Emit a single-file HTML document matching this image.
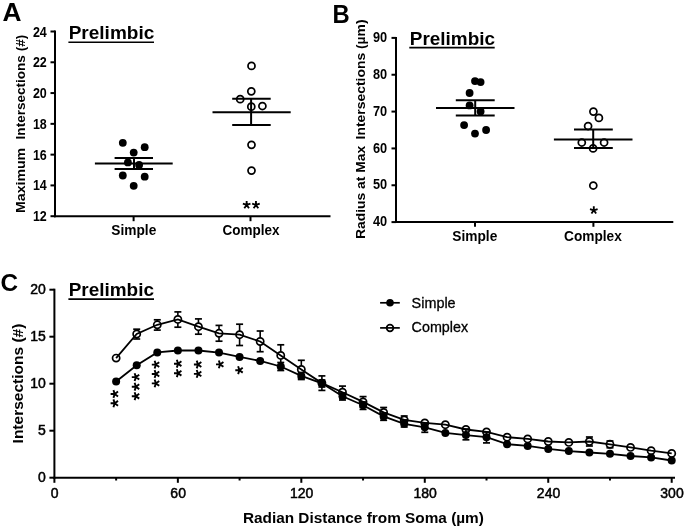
<!DOCTYPE html>
<html><head><meta charset="utf-8"><title>Prelimbic Sholl analysis</title>
<style>
html,body{margin:0;padding:0;background:#fff;}
svg{display:block;font-family:"Liberation Sans", sans-serif;will-change:transform;}
</style></head>
<body>
<svg width="685" height="529" viewBox="0 0 685 529">
<rect width="685" height="529" fill="#fff"/>
<text x="2.4" y="21.1" font-size="26" font-weight="bold" textLength="19.0" lengthAdjust="spacingAndGlyphs">A</text>
<line x1="55" y1="30.5" x2="55" y2="217.2" stroke="#000" stroke-width="2"/>
<line x1="54" y1="216.2" x2="330.5" y2="216.2" stroke="#000" stroke-width="2"/>
<line x1="50.5" y1="216.2" x2="55" y2="216.2" stroke="#000" stroke-width="2"/>
<text x="46.8" y="221.2" font-size="14" font-weight="bold" text-anchor="end" textLength="13.9" lengthAdjust="spacingAndGlyphs">12</text>
<line x1="50.5" y1="185.41666666666666" x2="55" y2="185.41666666666666" stroke="#000" stroke-width="2"/>
<text x="46.8" y="190.41666666666666" font-size="14" font-weight="bold" text-anchor="end" textLength="13.9" lengthAdjust="spacingAndGlyphs">14</text>
<line x1="50.5" y1="154.63333333333333" x2="55" y2="154.63333333333333" stroke="#000" stroke-width="2"/>
<text x="46.8" y="159.63333333333333" font-size="14" font-weight="bold" text-anchor="end" textLength="13.9" lengthAdjust="spacingAndGlyphs">16</text>
<line x1="50.5" y1="123.85000000000001" x2="55" y2="123.85000000000001" stroke="#000" stroke-width="2"/>
<text x="46.8" y="128.85000000000002" font-size="14" font-weight="bold" text-anchor="end" textLength="13.9" lengthAdjust="spacingAndGlyphs">18</text>
<line x1="50.5" y1="93.06666666666666" x2="55" y2="93.06666666666666" stroke="#000" stroke-width="2"/>
<text x="46.8" y="98.06666666666666" font-size="14" font-weight="bold" text-anchor="end" textLength="13.9" lengthAdjust="spacingAndGlyphs">20</text>
<line x1="50.5" y1="62.28333333333333" x2="55" y2="62.28333333333333" stroke="#000" stroke-width="2"/>
<text x="46.8" y="67.28333333333333" font-size="14" font-weight="bold" text-anchor="end" textLength="13.9" lengthAdjust="spacingAndGlyphs">22</text>
<line x1="50.5" y1="31.50000000000003" x2="55" y2="31.50000000000003" stroke="#000" stroke-width="2"/>
<text x="46.8" y="36.50000000000003" font-size="14" font-weight="bold" text-anchor="end" textLength="13.9" lengthAdjust="spacingAndGlyphs">24</text>
<line x1="133.6" y1="216.2" x2="133.6" y2="221.2" stroke="#000" stroke-width="2"/>
<line x1="250.5" y1="216.2" x2="250.5" y2="221.2" stroke="#000" stroke-width="2"/>
<text x="133.8" y="234.7" font-size="14.6" font-weight="bold" text-anchor="middle" textLength="45" lengthAdjust="spacingAndGlyphs">Simple</text>
<text x="251" y="234.7" font-size="14.6" font-weight="bold" text-anchor="middle" textLength="57" lengthAdjust="spacingAndGlyphs">Complex</text>
<text x="25.0" y="213.0" font-size="13.3" font-weight="bold" textLength="65.2" lengthAdjust="spacingAndGlyphs" transform="rotate(-90 25.0 213.0)">Maximum</text>
<text x="25.0" y="139.4" font-size="13.3" font-weight="bold" textLength="104.6" lengthAdjust="spacingAndGlyphs" transform="rotate(-90 25.0 139.4)">Intersections (#)</text>
<text x="68.7" y="39.4" font-size="17.5" font-weight="bold" textLength="85.6" lengthAdjust="spacingAndGlyphs">Prelimbic</text>
<line x1="68.4" y1="42.3" x2="154" y2="42.3" stroke="#000" stroke-width="1.6"/>
<circle cx="122.8" cy="142.8" r="3.9" fill="#000"/>
<circle cx="144.7" cy="147.2" r="3.9" fill="#000"/>
<circle cx="133.7" cy="152.6" r="3.9" fill="#000"/>
<circle cx="127.9" cy="162.4" r="3.9" fill="#000"/>
<circle cx="139.1" cy="165" r="3.9" fill="#000"/>
<circle cx="122.8" cy="175.5" r="3.9" fill="#000"/>
<circle cx="144.7" cy="176.7" r="3.9" fill="#000"/>
<circle cx="133.7" cy="185.8" r="3.9" fill="#000"/>
<line x1="94.9" y1="163.6" x2="172.7" y2="163.6" stroke="#000" stroke-width="2"/>
<line x1="114.6" y1="157.9" x2="153" y2="157.9" stroke="#000" stroke-width="2"/>
<line x1="114.6" y1="169" x2="153" y2="169" stroke="#000" stroke-width="2"/>
<line x1="134" y1="157.9" x2="134" y2="169" stroke="#000" stroke-width="2"/>
<line x1="212.5" y1="112.2" x2="290.7" y2="112.2" stroke="#000" stroke-width="2"/>
<line x1="232.2" y1="98.7" x2="270.7" y2="98.7" stroke="#000" stroke-width="2"/>
<line x1="232.2" y1="125.1" x2="270.7" y2="125.1" stroke="#000" stroke-width="2"/>
<line x1="251.1" y1="98.7" x2="251.1" y2="125.1" stroke="#000" stroke-width="2"/>
<circle cx="251.5" cy="65.9" r="3.5" fill="none" stroke="#000" stroke-width="1.75"/>
<circle cx="251.3" cy="91.3" r="3.5" fill="none" stroke="#000" stroke-width="1.75"/>
<circle cx="240.2" cy="99.2" r="3.5" fill="none" stroke="#000" stroke-width="1.75"/>
<circle cx="251.3" cy="106.7" r="3.5" fill="none" stroke="#000" stroke-width="1.75"/>
<circle cx="262.4" cy="106.0" r="3.5" fill="none" stroke="#000" stroke-width="1.75"/>
<circle cx="251.5" cy="144.8" r="3.5" fill="none" stroke="#000" stroke-width="1.75"/>
<circle cx="251.5" cy="170.6" r="3.5" fill="none" stroke="#000" stroke-width="1.75"/>
<text x="332.6" y="22.9" font-size="25.5" font-weight="bold" textLength="17.2" lengthAdjust="spacingAndGlyphs">B</text>
<line x1="396" y1="36.9" x2="396" y2="223.1" stroke="#000" stroke-width="2"/>
<line x1="395" y1="222.1" x2="673.3" y2="222.1" stroke="#000" stroke-width="2"/>
<line x1="391.5" y1="222.1" x2="396" y2="222.1" stroke="#000" stroke-width="2"/>
<text x="387.2" y="226.29999999999998" font-size="14" font-weight="bold" text-anchor="end" textLength="14.2" lengthAdjust="spacingAndGlyphs">40</text>
<line x1="391.5" y1="185.26" x2="396" y2="185.26" stroke="#000" stroke-width="2"/>
<text x="387.2" y="189.45999999999998" font-size="14" font-weight="bold" text-anchor="end" textLength="14.2" lengthAdjust="spacingAndGlyphs">50</text>
<line x1="391.5" y1="148.42" x2="396" y2="148.42" stroke="#000" stroke-width="2"/>
<text x="387.2" y="152.61999999999998" font-size="14" font-weight="bold" text-anchor="end" textLength="14.2" lengthAdjust="spacingAndGlyphs">60</text>
<line x1="391.5" y1="111.58" x2="396" y2="111.58" stroke="#000" stroke-width="2"/>
<text x="387.2" y="115.78" font-size="14" font-weight="bold" text-anchor="end" textLength="14.2" lengthAdjust="spacingAndGlyphs">70</text>
<line x1="391.5" y1="74.73999999999998" x2="396" y2="74.73999999999998" stroke="#000" stroke-width="2"/>
<text x="387.2" y="78.93999999999998" font-size="14" font-weight="bold" text-anchor="end" textLength="14.2" lengthAdjust="spacingAndGlyphs">80</text>
<line x1="391.5" y1="37.900000000000006" x2="396" y2="37.900000000000006" stroke="#000" stroke-width="2"/>
<text x="387.2" y="42.10000000000001" font-size="14" font-weight="bold" text-anchor="end" textLength="14.2" lengthAdjust="spacingAndGlyphs">90</text>
<line x1="475" y1="222.1" x2="475" y2="226.8" stroke="#000" stroke-width="2"/>
<line x1="593.4" y1="222.1" x2="593.4" y2="226.8" stroke="#000" stroke-width="2"/>
<text x="474.8" y="240.8" font-size="14.6" font-weight="bold" text-anchor="middle" textLength="45" lengthAdjust="spacingAndGlyphs">Simple</text>
<text x="592.9" y="240.8" font-size="14.6" font-weight="bold" text-anchor="middle" textLength="57.7" lengthAdjust="spacingAndGlyphs">Complex</text>
<text x="364.6" y="239.0" font-size="13.3" font-weight="bold" textLength="93.2" lengthAdjust="spacingAndGlyphs" transform="rotate(-90 364.6 239.0)">Radius at Max</text>
<text x="364.6" y="139.4" font-size="13.3" font-weight="bold" textLength="120.0" lengthAdjust="spacingAndGlyphs" transform="rotate(-90 364.6 139.4)">Intersections (µm)</text>
<text x="409.8" y="44.9" font-size="17.5" font-weight="bold" textLength="85.2" lengthAdjust="spacingAndGlyphs">Prelimbic</text>
<line x1="409.3" y1="47.6" x2="494.7" y2="47.6" stroke="#000" stroke-width="1.6"/>
<circle cx="475.0" cy="81.1" r="3.9" fill="#000"/>
<circle cx="480.6" cy="82.1" r="3.9" fill="#000"/>
<circle cx="469.6" cy="93" r="3.9" fill="#000"/>
<circle cx="469.6" cy="105.4" r="3.9" fill="#000"/>
<circle cx="480.6" cy="111.4" r="3.9" fill="#000"/>
<circle cx="464.1" cy="125.1" r="3.9" fill="#000"/>
<circle cx="486.1" cy="130" r="3.9" fill="#000"/>
<circle cx="475" cy="133.6" r="3.9" fill="#000"/>
<line x1="436" y1="107.9" x2="514.5" y2="107.9" stroke="#000" stroke-width="2"/>
<line x1="455.8" y1="100.3" x2="494.7" y2="100.3" stroke="#000" stroke-width="2"/>
<line x1="455.8" y1="115.5" x2="494.7" y2="115.5" stroke="#000" stroke-width="2"/>
<line x1="475.2" y1="100.3" x2="475.2" y2="115.5" stroke="#000" stroke-width="2"/>
<line x1="553.9" y1="139.4" x2="632.5" y2="139.4" stroke="#000" stroke-width="2"/>
<line x1="574" y1="129.6" x2="612.8" y2="129.6" stroke="#000" stroke-width="2"/>
<line x1="574" y1="148.1" x2="612.8" y2="148.1" stroke="#000" stroke-width="2"/>
<line x1="593.2" y1="129.6" x2="593.2" y2="148.1" stroke="#000" stroke-width="2"/>
<circle cx="593.4" cy="111.6" r="3.5" fill="none" stroke="#000" stroke-width="1.75"/>
<circle cx="598.9" cy="117.9" r="3.5" fill="none" stroke="#000" stroke-width="1.75"/>
<circle cx="588.1" cy="126" r="3.5" fill="none" stroke="#000" stroke-width="1.75"/>
<circle cx="581.8" cy="142.5" r="3.5" fill="none" stroke="#000" stroke-width="1.75"/>
<circle cx="604.1" cy="142.5" r="3.5" fill="none" stroke="#000" stroke-width="1.75"/>
<circle cx="593.1" cy="148.4" r="3.5" fill="none" stroke="#000" stroke-width="1.75"/>
<circle cx="593.3" cy="185.5" r="3.5" fill="none" stroke="#000" stroke-width="1.75"/>
<text x="0.6" y="290.8" font-size="24" font-weight="bold" textLength="17.6" lengthAdjust="spacingAndGlyphs">C</text>
<line x1="54.4" y1="288.7" x2="54.4" y2="478.7" stroke="#000" stroke-width="2"/>
<line x1="53.4" y1="477.7" x2="675" y2="477.7" stroke="#000" stroke-width="2"/>
<line x1="49.4" y1="477.7" x2="54.4" y2="477.7" stroke="#000" stroke-width="2"/>
<text x="45.9" y="482.2" font-size="14" text-anchor="end" stroke="#000" stroke-width="0.5">0</text>
<line x1="49.4" y1="430.7" x2="54.4" y2="430.7" stroke="#000" stroke-width="2"/>
<text x="45.9" y="435.2" font-size="14" text-anchor="end" stroke="#000" stroke-width="0.5">5</text>
<line x1="49.4" y1="383.7" x2="54.4" y2="383.7" stroke="#000" stroke-width="2"/>
<text x="45.9" y="388.2" font-size="14" text-anchor="end" stroke="#000" stroke-width="0.5">10</text>
<line x1="49.4" y1="336.7" x2="54.4" y2="336.7" stroke="#000" stroke-width="2"/>
<text x="45.9" y="341.2" font-size="14" text-anchor="end" stroke="#000" stroke-width="0.5">15</text>
<line x1="49.4" y1="289.7" x2="54.4" y2="289.7" stroke="#000" stroke-width="2"/>
<text x="45.9" y="294.2" font-size="14" text-anchor="end" stroke="#000" stroke-width="0.5">20</text>
<line x1="54.4" y1="477.7" x2="54.4" y2="482.8" stroke="#000" stroke-width="2"/>
<text x="54.699999999999996" y="498.2" font-size="14" text-anchor="middle" stroke="#000" stroke-width="0.5">0</text>
<line x1="116.13000000000001" y1="477.7" x2="116.13000000000001" y2="480.5" stroke="#000" stroke-width="2"/>
<line x1="177.86" y1="477.7" x2="177.86" y2="482.8" stroke="#000" stroke-width="2"/>
<text x="178.16000000000003" y="498.2" font-size="14" text-anchor="middle" stroke="#000" stroke-width="0.5">60</text>
<line x1="239.59000000000003" y1="477.7" x2="239.59000000000003" y2="480.5" stroke="#000" stroke-width="2"/>
<line x1="301.32000000000005" y1="477.7" x2="301.32000000000005" y2="482.8" stroke="#000" stroke-width="2"/>
<text x="301.62000000000006" y="498.2" font-size="14" text-anchor="middle" stroke="#000" stroke-width="0.5">120</text>
<line x1="363.05" y1="477.7" x2="363.05" y2="480.5" stroke="#000" stroke-width="2"/>
<line x1="424.78000000000003" y1="477.7" x2="424.78000000000003" y2="482.8" stroke="#000" stroke-width="2"/>
<text x="425.08000000000004" y="498.2" font-size="14" text-anchor="middle" stroke="#000" stroke-width="0.5">180</text>
<line x1="486.51000000000005" y1="477.7" x2="486.51000000000005" y2="480.5" stroke="#000" stroke-width="2"/>
<line x1="548.2400000000001" y1="477.7" x2="548.2400000000001" y2="482.8" stroke="#000" stroke-width="2"/>
<text x="548.5400000000001" y="498.2" font-size="14" text-anchor="middle" stroke="#000" stroke-width="0.5">240</text>
<line x1="609.97" y1="477.7" x2="609.97" y2="480.5" stroke="#000" stroke-width="2"/>
<line x1="671.7" y1="477.7" x2="671.7" y2="482.8" stroke="#000" stroke-width="2"/>
<text x="672.0" y="498.2" font-size="14" text-anchor="middle" stroke="#000" stroke-width="0.5">300</text>
<text x="242.9" y="522.7" font-size="14" font-weight="bold" textLength="241" lengthAdjust="spacingAndGlyphs">Radian Distance from Soma (µm)</text>
<text x="22.9" y="443.4" font-size="15" font-weight="bold" textLength="119.8" lengthAdjust="spacingAndGlyphs" transform="rotate(-90 22.9 443.4)">Intersections (#)</text>
<text x="68.7" y="296.2" font-size="17.5" font-weight="bold" textLength="85.3" lengthAdjust="spacingAndGlyphs">Prelimbic</text>
<line x1="68.4" y1="299.1" x2="154" y2="299.1" stroke="#000" stroke-width="1.6"/>
<line x1="380.1" y1="302.8" x2="399.8" y2="302.8" stroke="#000" stroke-width="1.7"/>
<circle cx="390" cy="302.8" r="3.8" fill="#000"/>
<text x="411.6" y="307.6" font-size="14.4" textLength="44" lengthAdjust="spacingAndGlyphs" stroke="#000" stroke-width="0.3">Simple</text>
<line x1="380.1" y1="327.9" x2="399.8" y2="327.9" stroke="#000" stroke-width="1.7"/>
<circle cx="390" cy="327.9" r="3.35" fill="none" stroke="#000" stroke-width="1.75"/>
<text x="411.6" y="332.4" font-size="14.4" textLength="56.5" lengthAdjust="spacingAndGlyphs" stroke="#000" stroke-width="0.3">Complex</text>
<polyline points="116.1,358.1 136.7,334.0 157.3,324.8 177.9,319.4 198.4,326.7 219.0,333.3 239.6,334.7 260.2,341.5 280.7,355.4 301.3,369.4 321.9,383.1 342.5,392.2 363.1,401.9 383.6,412.4 404.2,419.9 424.8,422.9 445.4,424.7 465.9,429.5 486.5,431.9 507.1,437.2 527.7,438.9 548.2,441.5 568.8,442.4 589.4,441.5 610.0,444.3 630.5,447.4 651.1,450.7 671.7,453.4" fill="none" stroke="#000" stroke-width="1.8"/>
<polyline points="116.1,381.5 136.7,365.3 157.3,352.4 177.9,350.5 198.4,350.5 219.0,352.6 239.6,356.9 260.2,361.0 280.7,366.5 301.3,375.9 321.9,383.3 342.5,396.2 363.1,405.3 383.6,416.4 404.2,423.8 424.8,427.3 445.4,432.9 465.9,435.1 486.5,437.2 507.1,444.2 527.7,445.9 548.2,448.9 568.8,451.1 589.4,452.5 610.0,453.8 630.5,456.0 651.1,457.4 671.7,460.5" fill="none" stroke="#000" stroke-width="1.8"/>
<line x1="136.70666666666668" y1="329.2" x2="136.70666666666668" y2="330.4" stroke="#000" stroke-width="1.6"/>
<line x1="136.70666666666668" y1="337.6" x2="136.70666666666668" y2="339" stroke="#000" stroke-width="1.6"/>
<line x1="133.20666666666668" y1="329.2" x2="140.20666666666668" y2="329.2" stroke="#000" stroke-width="1.7"/>
<line x1="133.20666666666668" y1="339" x2="140.20666666666668" y2="339" stroke="#000" stroke-width="1.7"/>
<line x1="157.28333333333333" y1="319.8" x2="157.28333333333333" y2="321.2" stroke="#000" stroke-width="1.6"/>
<line x1="157.28333333333333" y1="328.40000000000003" x2="157.28333333333333" y2="330.1" stroke="#000" stroke-width="1.6"/>
<line x1="153.78333333333333" y1="319.8" x2="160.78333333333333" y2="319.8" stroke="#000" stroke-width="1.7"/>
<line x1="153.78333333333333" y1="330.1" x2="160.78333333333333" y2="330.1" stroke="#000" stroke-width="1.7"/>
<line x1="177.86" y1="311.9" x2="177.86" y2="315.79999999999995" stroke="#000" stroke-width="1.6"/>
<line x1="177.86" y1="323.0" x2="177.86" y2="327.2" stroke="#000" stroke-width="1.6"/>
<line x1="174.36" y1="311.9" x2="181.36" y2="311.9" stroke="#000" stroke-width="1.7"/>
<line x1="174.36" y1="327.2" x2="181.36" y2="327.2" stroke="#000" stroke-width="1.7"/>
<line x1="198.4366666666667" y1="318.9" x2="198.4366666666667" y2="323.09999999999997" stroke="#000" stroke-width="1.6"/>
<line x1="198.4366666666667" y1="330.3" x2="198.4366666666667" y2="334.2" stroke="#000" stroke-width="1.6"/>
<line x1="194.9366666666667" y1="318.9" x2="201.9366666666667" y2="318.9" stroke="#000" stroke-width="1.7"/>
<line x1="194.9366666666667" y1="334.2" x2="201.9366666666667" y2="334.2" stroke="#000" stroke-width="1.7"/>
<line x1="219.01333333333335" y1="325.4" x2="219.01333333333335" y2="329.7" stroke="#000" stroke-width="1.6"/>
<line x1="219.01333333333335" y1="336.90000000000003" x2="219.01333333333335" y2="341.2" stroke="#000" stroke-width="1.6"/>
<line x1="215.51333333333335" y1="325.4" x2="222.51333333333335" y2="325.4" stroke="#000" stroke-width="1.7"/>
<line x1="215.51333333333335" y1="341.2" x2="222.51333333333335" y2="341.2" stroke="#000" stroke-width="1.7"/>
<line x1="239.59000000000003" y1="324.2" x2="239.59000000000003" y2="331.09999999999997" stroke="#000" stroke-width="1.6"/>
<line x1="239.59000000000003" y1="338.3" x2="239.59000000000003" y2="345.5" stroke="#000" stroke-width="1.6"/>
<line x1="236.09000000000003" y1="324.2" x2="243.09000000000003" y2="324.2" stroke="#000" stroke-width="1.7"/>
<line x1="236.09000000000003" y1="345.5" x2="243.09000000000003" y2="345.5" stroke="#000" stroke-width="1.7"/>
<line x1="260.1666666666667" y1="331" x2="260.1666666666667" y2="337.9" stroke="#000" stroke-width="1.6"/>
<line x1="260.1666666666667" y1="345.1" x2="260.1666666666667" y2="351.7" stroke="#000" stroke-width="1.6"/>
<line x1="256.6666666666667" y1="331" x2="263.6666666666667" y2="331" stroke="#000" stroke-width="1.7"/>
<line x1="256.6666666666667" y1="351.7" x2="263.6666666666667" y2="351.7" stroke="#000" stroke-width="1.7"/>
<line x1="280.7433333333334" y1="344.8" x2="280.7433333333334" y2="351.79999999999995" stroke="#000" stroke-width="1.6"/>
<line x1="280.7433333333334" y1="359.0" x2="280.7433333333334" y2="366" stroke="#000" stroke-width="1.6"/>
<line x1="277.2433333333334" y1="344.8" x2="284.2433333333334" y2="344.8" stroke="#000" stroke-width="1.7"/>
<line x1="277.2433333333334" y1="366" x2="284.2433333333334" y2="366" stroke="#000" stroke-width="1.7"/>
<line x1="301.32000000000005" y1="360.3" x2="301.32000000000005" y2="365.79999999999995" stroke="#000" stroke-width="1.6"/>
<line x1="301.32000000000005" y1="373.0" x2="301.32000000000005" y2="378.5" stroke="#000" stroke-width="1.6"/>
<line x1="297.82000000000005" y1="360.3" x2="304.82000000000005" y2="360.3" stroke="#000" stroke-width="1.7"/>
<line x1="297.82000000000005" y1="378.5" x2="304.82000000000005" y2="378.5" stroke="#000" stroke-width="1.7"/>
<line x1="321.8966666666667" y1="375.9" x2="321.8966666666667" y2="379.5" stroke="#000" stroke-width="1.6"/>
<line x1="321.8966666666667" y1="386.70000000000005" x2="321.8966666666667" y2="390.4" stroke="#000" stroke-width="1.6"/>
<line x1="318.3966666666667" y1="375.9" x2="325.3966666666667" y2="375.9" stroke="#000" stroke-width="1.7"/>
<line x1="318.3966666666667" y1="390.4" x2="325.3966666666667" y2="390.4" stroke="#000" stroke-width="1.7"/>
<line x1="342.47333333333336" y1="386.1" x2="342.47333333333336" y2="388.59999999999997" stroke="#000" stroke-width="1.6"/>
<line x1="342.47333333333336" y1="395.8" x2="342.47333333333336" y2="398.3" stroke="#000" stroke-width="1.6"/>
<line x1="338.97333333333336" y1="386.1" x2="345.97333333333336" y2="386.1" stroke="#000" stroke-width="1.7"/>
<line x1="338.97333333333336" y1="398.3" x2="345.97333333333336" y2="398.3" stroke="#000" stroke-width="1.7"/>
<line x1="363.05" y1="396.6" x2="363.05" y2="398.29999999999995" stroke="#000" stroke-width="1.6"/>
<line x1="363.05" y1="405.5" x2="363.05" y2="407.2" stroke="#000" stroke-width="1.6"/>
<line x1="359.55" y1="396.6" x2="366.55" y2="396.6" stroke="#000" stroke-width="1.7"/>
<line x1="359.55" y1="407.2" x2="366.55" y2="407.2" stroke="#000" stroke-width="1.7"/>
<line x1="383.62666666666667" y1="407.5" x2="383.62666666666667" y2="408.79999999999995" stroke="#000" stroke-width="1.6"/>
<line x1="383.62666666666667" y1="416.0" x2="383.62666666666667" y2="417.5" stroke="#000" stroke-width="1.6"/>
<line x1="380.12666666666667" y1="407.5" x2="387.12666666666667" y2="407.5" stroke="#000" stroke-width="1.7"/>
<line x1="380.12666666666667" y1="417.5" x2="387.12666666666667" y2="417.5" stroke="#000" stroke-width="1.7"/>
<line x1="404.2033333333334" y1="416" x2="404.2033333333334" y2="416.29999999999995" stroke="#000" stroke-width="1.6"/>
<line x1="404.2033333333334" y1="423.5" x2="404.2033333333334" y2="424" stroke="#000" stroke-width="1.6"/>
<line x1="400.7033333333334" y1="416" x2="407.7033333333334" y2="416" stroke="#000" stroke-width="1.7"/>
<line x1="400.7033333333334" y1="424" x2="407.7033333333334" y2="424" stroke="#000" stroke-width="1.7"/>
<line x1="589.3933333333334" y1="437" x2="589.3933333333334" y2="437.9" stroke="#000" stroke-width="1.6"/>
<line x1="589.3933333333334" y1="445.1" x2="589.3933333333334" y2="446" stroke="#000" stroke-width="1.6"/>
<line x1="585.8933333333334" y1="437" x2="592.8933333333334" y2="437" stroke="#000" stroke-width="1.7"/>
<line x1="585.8933333333334" y1="446" x2="592.8933333333334" y2="446" stroke="#000" stroke-width="1.7"/>
<line x1="606.47" y1="441" x2="613.47" y2="441" stroke="#000" stroke-width="1.7"/>
<line x1="606.47" y1="447.8" x2="613.47" y2="447.8" stroke="#000" stroke-width="1.7"/>
<line x1="280.7433333333334" y1="362.5" x2="280.7433333333334" y2="370.5" stroke="#000" stroke-width="1.6"/>
<line x1="277.2433333333334" y1="362.5" x2="284.2433333333334" y2="362.5" stroke="#000" stroke-width="1.7"/>
<line x1="277.2433333333334" y1="370.5" x2="284.2433333333334" y2="370.5" stroke="#000" stroke-width="1.7"/>
<line x1="301.32000000000005" y1="372.5" x2="301.32000000000005" y2="379.5" stroke="#000" stroke-width="1.6"/>
<line x1="297.82000000000005" y1="372.5" x2="304.82000000000005" y2="372.5" stroke="#000" stroke-width="1.7"/>
<line x1="297.82000000000005" y1="379.5" x2="304.82000000000005" y2="379.5" stroke="#000" stroke-width="1.7"/>
<line x1="321.8966666666667" y1="380" x2="321.8966666666667" y2="387" stroke="#000" stroke-width="1.6"/>
<line x1="318.3966666666667" y1="380" x2="325.3966666666667" y2="380" stroke="#000" stroke-width="1.7"/>
<line x1="318.3966666666667" y1="387" x2="325.3966666666667" y2="387" stroke="#000" stroke-width="1.7"/>
<line x1="342.47333333333336" y1="393" x2="342.47333333333336" y2="400" stroke="#000" stroke-width="1.6"/>
<line x1="338.97333333333336" y1="393" x2="345.97333333333336" y2="393" stroke="#000" stroke-width="1.7"/>
<line x1="338.97333333333336" y1="400" x2="345.97333333333336" y2="400" stroke="#000" stroke-width="1.7"/>
<line x1="363.05" y1="402" x2="363.05" y2="409.4" stroke="#000" stroke-width="1.6"/>
<line x1="359.55" y1="402" x2="366.55" y2="402" stroke="#000" stroke-width="1.7"/>
<line x1="359.55" y1="409.4" x2="366.55" y2="409.4" stroke="#000" stroke-width="1.7"/>
<line x1="383.62666666666667" y1="413" x2="383.62666666666667" y2="420.3" stroke="#000" stroke-width="1.6"/>
<line x1="380.12666666666667" y1="413" x2="387.12666666666667" y2="413" stroke="#000" stroke-width="1.7"/>
<line x1="380.12666666666667" y1="420.3" x2="387.12666666666667" y2="420.3" stroke="#000" stroke-width="1.7"/>
<line x1="404.2033333333334" y1="420" x2="404.2033333333334" y2="427" stroke="#000" stroke-width="1.6"/>
<line x1="400.7033333333334" y1="420" x2="407.7033333333334" y2="420" stroke="#000" stroke-width="1.7"/>
<line x1="400.7033333333334" y1="427" x2="407.7033333333334" y2="427" stroke="#000" stroke-width="1.7"/>
<line x1="424.78000000000003" y1="423" x2="424.78000000000003" y2="432.3" stroke="#000" stroke-width="1.6"/>
<line x1="421.28000000000003" y1="423" x2="428.28000000000003" y2="423" stroke="#000" stroke-width="1.7"/>
<line x1="421.28000000000003" y1="432.3" x2="428.28000000000003" y2="432.3" stroke="#000" stroke-width="1.7"/>
<line x1="465.93333333333334" y1="429" x2="465.93333333333334" y2="439.8" stroke="#000" stroke-width="1.6"/>
<line x1="462.43333333333334" y1="429" x2="469.43333333333334" y2="429" stroke="#000" stroke-width="1.7"/>
<line x1="462.43333333333334" y1="439.8" x2="469.43333333333334" y2="439.8" stroke="#000" stroke-width="1.7"/>
<line x1="486.51000000000005" y1="432" x2="486.51000000000005" y2="442.9" stroke="#000" stroke-width="1.6"/>
<line x1="483.01000000000005" y1="432" x2="490.01000000000005" y2="432" stroke="#000" stroke-width="1.7"/>
<line x1="483.01000000000005" y1="442.9" x2="490.01000000000005" y2="442.9" stroke="#000" stroke-width="1.7"/>
<circle cx="116.13000000000001" cy="381.5" r="4.0" fill="#000"/>
<circle cx="136.70666666666668" cy="365.3" r="4.0" fill="#000"/>
<circle cx="157.28333333333333" cy="352.4" r="4.0" fill="#000"/>
<circle cx="177.86" cy="350.5" r="4.0" fill="#000"/>
<circle cx="198.4366666666667" cy="350.5" r="4.0" fill="#000"/>
<circle cx="219.01333333333335" cy="352.6" r="4.0" fill="#000"/>
<circle cx="239.59000000000003" cy="356.9" r="4.0" fill="#000"/>
<circle cx="260.1666666666667" cy="361.0" r="4.0" fill="#000"/>
<circle cx="280.7433333333334" cy="366.5" r="4.0" fill="#000"/>
<circle cx="301.32000000000005" cy="375.9" r="4.0" fill="#000"/>
<circle cx="321.8966666666667" cy="383.3" r="4.0" fill="#000"/>
<circle cx="342.47333333333336" cy="396.2" r="4.0" fill="#000"/>
<circle cx="363.05" cy="405.3" r="4.0" fill="#000"/>
<circle cx="383.62666666666667" cy="416.4" r="4.0" fill="#000"/>
<circle cx="404.2033333333334" cy="423.8" r="4.0" fill="#000"/>
<circle cx="424.78000000000003" cy="427.3" r="4.0" fill="#000"/>
<circle cx="445.3566666666667" cy="432.9" r="4.0" fill="#000"/>
<circle cx="465.93333333333334" cy="435.1" r="4.0" fill="#000"/>
<circle cx="486.51000000000005" cy="437.2" r="4.0" fill="#000"/>
<circle cx="507.08666666666676" cy="444.2" r="4.0" fill="#000"/>
<circle cx="527.6633333333334" cy="445.9" r="4.0" fill="#000"/>
<circle cx="548.2400000000001" cy="448.9" r="4.0" fill="#000"/>
<circle cx="568.8166666666667" cy="451.1" r="4.0" fill="#000"/>
<circle cx="589.3933333333334" cy="452.5" r="4.0" fill="#000"/>
<circle cx="609.97" cy="453.8" r="4.0" fill="#000"/>
<circle cx="630.5466666666667" cy="456.0" r="4.0" fill="#000"/>
<circle cx="651.1233333333334" cy="457.4" r="4.0" fill="#000"/>
<circle cx="671.7" cy="460.5" r="4.0" fill="#000"/>
<circle cx="116.13000000000001" cy="358.1" r="3.6" fill="none" stroke="#000" stroke-width="1.7"/>
<circle cx="136.70666666666668" cy="334.0" r="3.6" fill="none" stroke="#000" stroke-width="1.7"/>
<circle cx="157.28333333333333" cy="324.8" r="3.6" fill="none" stroke="#000" stroke-width="1.7"/>
<circle cx="177.86" cy="319.4" r="3.6" fill="none" stroke="#000" stroke-width="1.7"/>
<circle cx="198.4366666666667" cy="326.7" r="3.6" fill="none" stroke="#000" stroke-width="1.7"/>
<circle cx="219.01333333333335" cy="333.3" r="3.6" fill="none" stroke="#000" stroke-width="1.7"/>
<circle cx="239.59000000000003" cy="334.7" r="3.6" fill="none" stroke="#000" stroke-width="1.7"/>
<circle cx="260.1666666666667" cy="341.5" r="3.6" fill="none" stroke="#000" stroke-width="1.7"/>
<circle cx="280.7433333333334" cy="355.4" r="3.6" fill="none" stroke="#000" stroke-width="1.7"/>
<circle cx="301.32000000000005" cy="369.4" r="3.6" fill="none" stroke="#000" stroke-width="1.7"/>
<circle cx="321.8966666666667" cy="383.1" r="3.6" fill="none" stroke="#000" stroke-width="1.7"/>
<circle cx="342.47333333333336" cy="392.2" r="3.6" fill="none" stroke="#000" stroke-width="1.7"/>
<circle cx="363.05" cy="401.9" r="3.6" fill="none" stroke="#000" stroke-width="1.7"/>
<circle cx="383.62666666666667" cy="412.4" r="3.6" fill="none" stroke="#000" stroke-width="1.7"/>
<circle cx="404.2033333333334" cy="419.9" r="3.6" fill="none" stroke="#000" stroke-width="1.7"/>
<circle cx="424.78000000000003" cy="422.9" r="3.6" fill="none" stroke="#000" stroke-width="1.7"/>
<circle cx="445.3566666666667" cy="424.7" r="3.6" fill="none" stroke="#000" stroke-width="1.7"/>
<circle cx="465.93333333333334" cy="429.5" r="3.6" fill="none" stroke="#000" stroke-width="1.7"/>
<circle cx="486.51000000000005" cy="431.9" r="3.6" fill="none" stroke="#000" stroke-width="1.7"/>
<circle cx="507.08666666666676" cy="437.2" r="3.6" fill="none" stroke="#000" stroke-width="1.7"/>
<circle cx="527.6633333333334" cy="438.9" r="3.6" fill="none" stroke="#000" stroke-width="1.7"/>
<circle cx="548.2400000000001" cy="441.5" r="3.6" fill="none" stroke="#000" stroke-width="1.7"/>
<circle cx="568.8166666666667" cy="442.4" r="3.6" fill="none" stroke="#000" stroke-width="1.7"/>
<circle cx="589.3933333333334" cy="441.5" r="3.6" fill="none" stroke="#000" stroke-width="1.7"/>
<circle cx="609.97" cy="444.3" r="3.6" fill="none" stroke="#000" stroke-width="1.7"/>
<circle cx="630.5466666666667" cy="447.4" r="3.6" fill="none" stroke="#000" stroke-width="1.7"/>
<circle cx="651.1233333333334" cy="450.7" r="3.6" fill="none" stroke="#000" stroke-width="1.7"/>
<circle cx="671.7" cy="453.4" r="3.6" fill="none" stroke="#000" stroke-width="1.7"/>
<path d="M114.70,394.00L110.60,394.00M114.70,394.00L113.43,390.10M114.70,394.00L118.02,391.59M114.70,394.00L118.02,396.41M114.70,394.00L113.43,397.90" stroke="#000" stroke-width="1.9" fill="none" stroke-linecap="butt"/>
<path d="M114.70,403.30L110.60,403.30M114.70,403.30L113.43,399.40M114.70,403.30L118.02,400.89M114.70,403.30L118.02,405.71M114.70,403.30L113.43,407.20" stroke="#000" stroke-width="1.9" fill="none" stroke-linecap="butt"/>
<path d="M135.90,377.10L131.80,377.10M135.90,377.10L134.63,373.20M135.90,377.10L139.22,374.69M135.90,377.10L139.22,379.51M135.90,377.10L134.63,381.00" stroke="#000" stroke-width="1.9" fill="none" stroke-linecap="butt"/>
<path d="M135.90,386.70L131.80,386.70M135.90,386.70L134.63,382.80M135.90,386.70L139.22,384.29M135.90,386.70L139.22,389.11M135.90,386.70L134.63,390.60" stroke="#000" stroke-width="1.9" fill="none" stroke-linecap="butt"/>
<path d="M135.90,396.20L131.80,396.20M135.90,396.20L134.63,392.30M135.90,396.20L139.22,393.79M135.90,396.20L139.22,398.61M135.90,396.20L134.63,400.10" stroke="#000" stroke-width="1.9" fill="none" stroke-linecap="butt"/>
<path d="M155.90,364.60L151.80,364.60M155.90,364.60L154.63,360.70M155.90,364.60L159.22,362.19M155.90,364.60L159.22,367.01M155.90,364.60L154.63,368.50" stroke="#000" stroke-width="1.9" fill="none" stroke-linecap="butt"/>
<path d="M155.90,374.00L151.80,374.00M155.90,374.00L154.63,370.10M155.90,374.00L159.22,371.59M155.90,374.00L159.22,376.41M155.90,374.00L154.63,377.90" stroke="#000" stroke-width="1.9" fill="none" stroke-linecap="butt"/>
<path d="M155.90,383.40L151.80,383.40M155.90,383.40L154.63,379.50M155.90,383.40L159.22,380.99M155.90,383.40L159.22,385.81M155.90,383.40L154.63,387.30" stroke="#000" stroke-width="1.9" fill="none" stroke-linecap="butt"/>
<path d="M178.10,363.70L174.00,363.70M178.10,363.70L176.83,359.80M178.10,363.70L181.42,361.29M178.10,363.70L181.42,366.11M178.10,363.70L176.83,367.60" stroke="#000" stroke-width="1.9" fill="none" stroke-linecap="butt"/>
<path d="M178.10,373.20L174.00,373.20M178.10,373.20L176.83,369.30M178.10,373.20L181.42,370.79M178.10,373.20L181.42,375.61M178.10,373.20L176.83,377.10" stroke="#000" stroke-width="1.9" fill="none" stroke-linecap="butt"/>
<path d="M198.00,364.50L193.90,364.50M198.00,364.50L196.73,360.60M198.00,364.50L201.32,362.09M198.00,364.50L201.32,366.91M198.00,364.50L196.73,368.40" stroke="#000" stroke-width="1.9" fill="none" stroke-linecap="butt"/>
<path d="M198.00,373.90L193.90,373.90M198.00,373.90L196.73,370.00M198.00,373.90L201.32,371.49M198.00,373.90L201.32,376.31M198.00,373.90L196.73,377.80" stroke="#000" stroke-width="1.9" fill="none" stroke-linecap="butt"/>
<path d="M220.10,364.40L216.00,364.40M220.10,364.40L218.83,360.50M220.10,364.40L223.42,361.99M220.10,364.40L223.42,366.81M220.10,364.40L218.83,368.30" stroke="#000" stroke-width="1.9" fill="none" stroke-linecap="butt"/>
<path d="M239.40,370.20L235.30,370.20M239.40,370.20L238.13,366.30M239.40,370.20L242.72,367.79M239.40,370.20L242.72,372.61M239.40,370.20L238.13,374.10" stroke="#000" stroke-width="1.9" fill="none" stroke-linecap="butt"/>
<path d="M246.65,204.96L246.65,200.96M246.65,204.96L250.45,203.72M246.65,204.96L249.00,208.20M246.65,204.96L244.30,208.20M246.65,204.96L242.85,203.72" stroke="#000" stroke-width="1.85" fill="none" stroke-linecap="butt"/>
<path d="M255.95,204.96L255.95,200.96M255.95,204.96L259.75,203.72M255.95,204.96L258.30,208.20M255.95,204.96L253.60,208.20M255.95,204.96L252.15,203.72" stroke="#000" stroke-width="1.85" fill="none" stroke-linecap="butt"/>
<path d="M593.80,210.30L593.80,206.30M593.80,210.30L597.60,209.06M593.80,210.30L596.15,213.54M593.80,210.30L591.45,213.54M593.80,210.30L590.00,209.06" stroke="#000" stroke-width="1.85" fill="none" stroke-linecap="butt"/>
</svg>
</body></html>
